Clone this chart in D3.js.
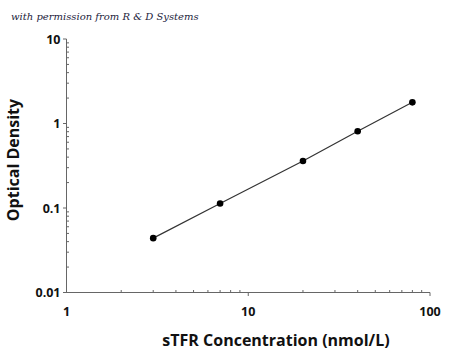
<!DOCTYPE html>
<html>
<head>
<meta charset="utf-8">
<script src="https://cdn.jsdelivr.net/npm/d3@7"></script>
<style>
  html, body { margin: 0; padding: 0; background: #fff; }
  svg { display: block; }
  .tick-label { font-family: "Open Sans", sans-serif; font-weight: 700; font-size: 12.5px; fill: #111; }
  .axis-title { font-family: "Open Sans", sans-serif; font-weight: 700; font-size: 16px; fill: #111; }
  .credit { font-family: "DejaVu Serif", serif; font-style: italic; font-size: 10px; fill: #1c1c3c; }
</style>
</head>
<body>
<script>
// Standard curve: sTFR concentration vs optical density
const concentration = [3, 7, 20, 40, 80];
const opticalDensity = [0.044, 0.113, 0.36, 0.81, 1.78];
const xTicks = [1, 10, 100];
const yTicks = [0.01, 0.1, 1, 10];
const xTickLabels = ["1", "10", "100"];
const yTickLabels = ["0.01", "0.1", "1", "10"];

const width = 450, height = 350;
const svg = d3.select("body").append("svg")
  .attr("width", width).attr("height", height);

const x = d3.scaleLog().domain([1, 100]).range([66.5, 430]);
const y = d3.scaleLog().domain([0.01, 10]).range([292.5, 39]);

const axisColor = "#666";

// minor ticks (inside), major ticks (outside)
const xMinor = [];
for (let d = 1; d < 100; d *= 10) for (let k = 2; k <= 9; k++) xMinor.push(d * k);
const yMinor = [];
for (let d = 0.01; d < 10; d *= 10) for (let k = 2; k <= 9; k++) yMinor.push(d * k);

const g = svg.append("g");

// x axis
g.append("line").attr("x1", x(1) - 3).attr("x2", x(100)).attr("y1", y(0.01)).attr("y2", y(0.01))
  .attr("stroke", axisColor).attr("stroke-width", 1);
g.selectAll(".xminor").data(xMinor).join("line")
  .attr("x1", d => x(d)).attr("x2", d => x(d))
  .attr("y1", y(0.01)).attr("y2", y(0.01) - 2.5)
  .attr("stroke", axisColor);
g.selectAll(".xmajor").data(xTicks.slice(1)).join("line")
  .attr("x1", d => x(d)).attr("x2", d => x(d))
  .attr("y1", y(0.01)).attr("y2", y(0.01) + 3.5)
  .attr("stroke", axisColor);
g.selectAll(".xlab").data(xTicks).join("text")
  .attr("class", "tick-label")
  .attr("x", d => x(d)).attr("y", y(0.01) + 23)
  .attr("text-anchor", "middle")
  .text((d, i) => xTickLabels[i]);

// y axis
g.append("line").attr("x1", x(1)).attr("x2", x(1)).attr("y1", y(0.01)).attr("y2", y(10))
  .attr("stroke", axisColor).attr("stroke-width", 1);
g.selectAll(".yminor").data(yMinor).join("line")
  .attr("x1", x(1)).attr("x2", x(1) + 2.5)
  .attr("y1", d => y(d)).attr("y2", d => y(d))
  .attr("stroke", axisColor);
g.selectAll(".ymajor").data(yTicks).join("line")
  .attr("x1", x(1) - 3.5).attr("x2", x(1))
  .attr("y1", d => y(d)).attr("y2", d => y(d))
  .attr("stroke", axisColor);
g.selectAll(".ylab").data(yTicks).join("text")
  .attr("class", "tick-label")
  .attr("x", x(1) - 6).attr("y", d => y(d))
  .attr("dy", "0.36em")
  .attr("text-anchor", "end")
  .text((d, i) => yTickLabels[i]);

// axis titles
svg.append("text").attr("class", "axis-title")
  .attr("x", 276).attr("y", 346).attr("text-anchor", "middle")
  .text("sTFR Concentration (nmol/L)");
svg.append("text").attr("class", "axis-title")
  .attr("transform", "translate(19,160) rotate(-90)").attr("text-anchor", "middle")
  .text("Optical Density");

// credit line
svg.append("text").attr("class", "credit")
  .attr("x", 11).attr("y", 20)
  .text("with permission from R & D Systems");

// curve and points
const pts = concentration.map((c, i) => [c, opticalDensity[i]]);
svg.append("path")
  .datum(pts)
  .attr("fill", "none").attr("stroke", "#333").attr("stroke-width", 1.2)
  .attr("d", d3.line().x(d => x(d[0])).y(d => y(d[1])));
svg.selectAll(".pt").data(pts).join("circle")
  .attr("cx", d => x(d[0])).attr("cy", d => y(d[1])).attr("r", 3.3)
  .attr("fill", "#000");
</script>
</body>
</html>
